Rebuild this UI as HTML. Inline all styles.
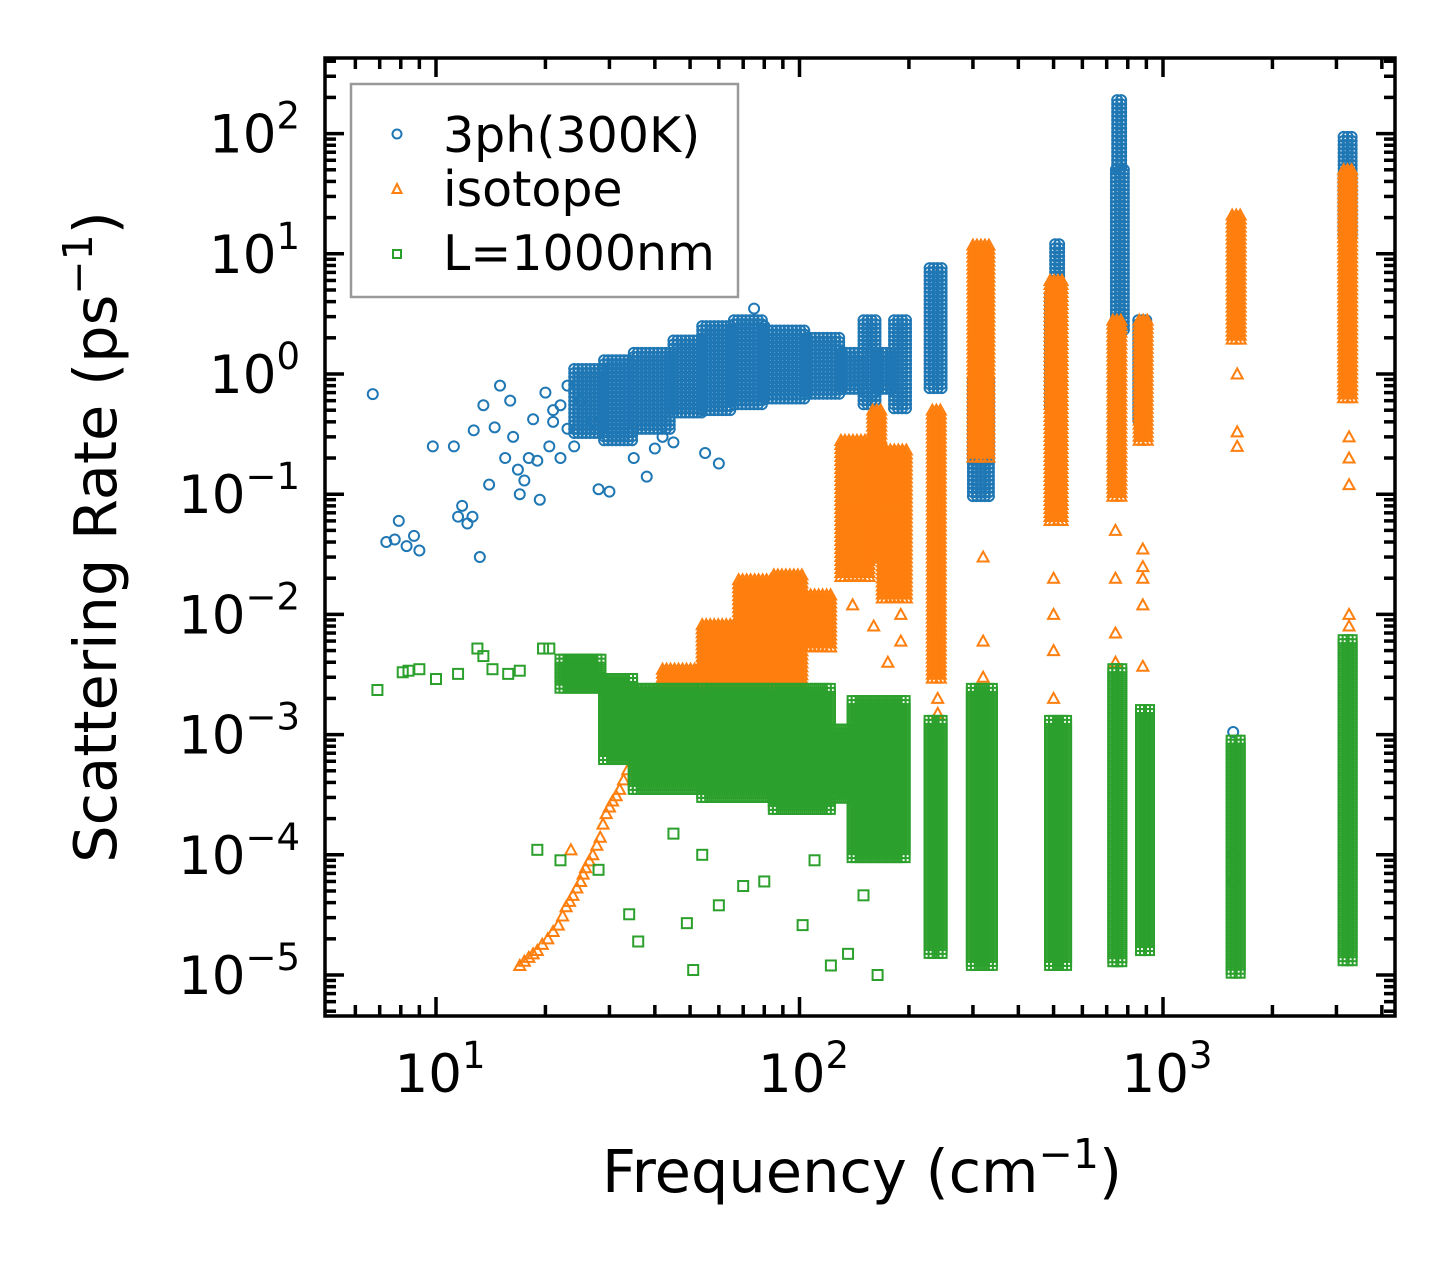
<!DOCTYPE html>
<html><head><meta charset="utf-8"><style>
html,body{margin:0;padding:0;background:#fff;}
svg text{font-family:"DejaVu Sans","Liberation Sans",sans-serif;fill:#000;}
</style></head><body>
<svg id="chart" width="1455" height="1265" viewBox="0 0 1455 1265" xmlns="http://www.w3.org/2000/svg">
<rect width="1455" height="1265" fill="#fff"/>
<g id="marks"></g>
<g id="axes"></g>
<g>
 <rect x="351" y="84" width="387" height="213" fill="#fff" stroke="#999" stroke-width="2.5"/>
 <g>
  <circle cx="397" cy="134" r="4.5" fill="none" stroke="#1f77b4" stroke-width="2"/>
  <text x="443" y="152" font-size="49">3ph(300K)</text></g>
 <g>
  <polygon points="397,184 392.5,193 401.5,193" fill="none" stroke="#ff7f0e" stroke-width="2"/>
  <text x="443" y="206" font-size="49">isotope</text></g>
 <g>
  <rect x="393" y="250" width="8" height="8" fill="none" stroke="#2ca02c" stroke-width="2"/>
  <text x="443" y="270" font-size="49">L=1000nm</text></g>
</g>
<text transform="translate(116,537) rotate(-90)" text-anchor="middle" font-size="59">Scattering Rate (ps<tspan dy="-24" font-size="41">−1</tspan><tspan dy="24">)</tspan></text>
<text x="862" y="1192" text-anchor="middle" font-size="59">Frequency (cm<tspan dy="-24" font-size="41">−1</tspan><tspan dy="24">)</tspan></text>
</svg>
<script>
// ---- data ----
const xTickExps = [1, 2, 3];
const yTickExps = [2, 1, 0, -1, -2, -3, -4, -5];
// dense regions: [fLo, fHi, vLo, vHi]
const blueBlocks = [
 [24,29,0.3,1.1],[29,35,0.28,1.3],[35,45,0.35,1.5],[45,54,0.45,1.9],[54,66,0.5,2.5],
 [66,80,0.55,2.8],[80,105,0.6,2.3],[105,131,0.65,2.0],[131,150,0.7,1.5],[150,165,0.55,2.8],
 [165,180,0.75,1.5],[182,198,0.5,2.8],[228,248,0.74,7.6],[300,340,0.09,0.89],
 [303,318,0.41,1.9],[489,520,0.5,4.5],[505,525,4.1,12],[742,785,2.3,50],[748,768,50,190],
 [735,760,0.16,2.3],[855,900,0.41,2.8],[3140,3320,13,94]
];
const blueF = [6.7,7.3,7.7,7.9,8.3,8.7,9.0,9.8,11.2,11.5,11.8,12.2,12.6,13.2,12.7,13.5,14,14.5,15,15.5,16,16.3,16.8,17,17.5,18,18.5,19,19.3,20,20.5,21,22,23,24,25,28,30,27,35,38,40,45,42,55,60,75,80,1560,1560,1560,22,21,23];
const blueV = [0.68,0.04,0.042,0.06,0.037,0.045,0.034,0.25,0.25,0.065,0.08,0.057,0.065,0.03,0.34,0.55,0.12,0.36,0.8,0.2,0.6,0.3,0.16,0.1,0.13,0.2,0.42,0.19,0.09,0.7,0.25,0.5,0.2,0.8,0.25,0.6,0.11,0.105,0.4,0.2,0.14,0.24,0.27,0.3,0.22,0.18,3.5,2.5,0.00105,0.0001,0.00006,0.55,0.4,0.35];
const orangeBlocks = [
 [35,42,0.0006,0.0023],[42,54,0.0006,0.0035],[54,68,0.0006,0.0082],[68,85,0.0006,0.0194],
 [85,102,0.0019,0.0213],[102,124,0.005,0.0145],[130,159,0.0194,0.28],[159,169,0.028,0.5],
 [169,199,0.013,0.233],[232,250,0.0029,0.5],[300,340,0.19,11.8],[489,540,0.06,6.0],
 [728,775,0.09,2.8],[860,910,0.28,2.8],[1550,1650,1.9,21],[3140,3320,0.6,50]
];
const orangeF = [17,17.5,18,18.5,19,19.6,20.3,21,21.7,22.3,22.8,23.3,23.8,24.4,25,25.4,25.8,26.4,27,27.7,28.3,28.8,29.4,30,30.6,31.3,32,32.8,33.7,23.5,240,240,240,320,320,320,500,500,500,500,740,740,740,740,880,880,880,880,880,1600,1600,1600,3250,3250,3250,3250,3250,140,160,190,190,175];
const orangeV = [1.2e-5,1.3e-5,1.4e-5,1.5e-5,1.6e-5,1.8e-5,2.0e-5,2.3e-5,2.6e-5,3.1e-5,3.7e-5,4.1e-5,4.6e-5,5.3e-5,6e-5,6.9e-5,7.8e-5,8.9e-5,1e-4,1.2e-4,1.4e-4,1.8e-4,2.2e-4,2.5e-4,2.8e-4,3.1e-4,3.5e-4,4.2e-4,5.1e-4,1.1e-4,0.002,0.0015,0.001,0.03,0.006,0.003,0.02,0.01,0.005,0.002,0.05,0.02,0.007,0.004,0.035,0.025,0.02,0.012,0.0037,1.0,0.33,0.25,0.3,0.2,0.12,0.01,0.008,0.012,0.008,0.01,0.006,0.004];
const greenBlocks = [
 [22,29,0.0024,0.0042],[29,35,0.0006,0.0029],[35,54,0.00035,0.0024],[54,85,0.00029,0.0024],
 [85,123,0.00023,0.0024],[123,140,0.00029,0.0011],[140,199,0.00009,0.0019],[228,250,1.5e-5,0.0013],
 [298,345,1.2e-5,0.0024],[489,545,1.2e-5,0.0013],[730,775,1.3e-5,0.0035],[870,915,1.6e-5,0.0016],
 [1545,1650,1.0e-5,0.00089],[3140,3350,1.3e-5,0.0061]
];
const greenF = [6.9,8.1,8.4,9.0,10,11.5,13,13.5,14.3,15.8,19.7,20.5,17,19,22,28,34,36,51,49,60,70,102,122,136,164,150,54,45,80,110,24,26];
const greenV = [0.00235,0.0033,0.0034,0.0035,0.0029,0.0032,0.0052,0.0045,0.0035,0.0032,0.0052,0.0052,0.0034,1.1e-4,9e-5,7.5e-5,3.2e-5,1.9e-5,1.1e-5,2.7e-5,3.8e-5,5.5e-5,2.6e-5,1.2e-5,1.5e-5,1.0e-5,4.6e-5,1e-4,1.5e-4,6e-5,9e-5,0.0035,0.0042];

// ---- axes functions ----
const X0=325,X1=1395,Y0=58,Y1=1016;
const xDec=363.5, x10=436;
const yDec=120.2, y1=374;
const xs = f => x10 + (Math.log10(f)-1)*xDec;
const ys = v => y1 - Math.log10(v)*yDec;
const NS="http://www.w3.org/2000/svg";
const marks=document.getElementById('marks');
function mk(tag,attrs,parent){const e=document.createElementNS(NS,tag);for(const k in attrs)e.setAttribute(k,attrs[k]);parent.appendChild(e);return e;}
function marker(kind,cx,cy,g){
 let e;
 if(kind==='c') e=mk('circle',{cx:cx,cy:cy,r:5,fill:'none',stroke:'#1f77b4','stroke-width':2},g);
 else if(kind==='t') e=mk('polygon',{points:`${cx},${cy-5.5} ${cx-5.5},${cy+4.5} ${cx+5.5},${cy+4.5}`,fill:'none',stroke:'#ff7f0e','stroke-width':2},g);
 else e=mk('rect',{x:cx-5,y:cy-5,width:10,height:10,fill:'none',stroke:'#2ca02c','stroke-width':2},g);
 
 
}
function drawSeries(name,kind,blocks,F,V){
 const g=mk('g',{},marks);
 
 
 blocks.forEach(b=>{
  const xa=xs(b[0]),xb=xs(b[1]),ya=ys(b[3]),yb=ys(b[2]);
  for(let x=xa;x<=xb+0.1;x+=4){for(let y=ya;y<=yb+0.1;y+=4){marker(kind,x,y,g);}}
 });
 F.forEach((f,i)=>marker(kind,xs(f),ys(V[i]),g));
}
drawSeries('series-3ph','c',blueBlocks,blueF,blueV);
drawSeries('series-isotope','t',orangeBlocks,orangeF,orangeV);
drawSeries('series-boundary','s',greenBlocks,greenF,greenV);

// ---- axes ----
const ax=document.getElementById('axes');
const frame=mk('rect',{x:X0,y:Y0,width:X1-X0,height:Y1-Y0,fill:'none',stroke:'#000','stroke-width':3.5},ax);


function tick(x1,y1_,x2,y2){mk('line',{x1:x1,y1:y1_,x2:x2,y2:y2,stroke:'#000','stroke-width':3.5},ax);}
for(let d=0;d<=4;d++){for(let m=1;m<=9;m++){
 const f=m*Math.pow(10,d); const x=xs(f); if(x<X0+2||x>X1-2) continue;
 const L=m===1?19:11; tick(x,Y1,x,Y1-L); tick(x,Y0,x,Y0+L);
}}
xTickExps.forEach(e=>{
 const t=mk('text',{x:xs(Math.pow(10,e))+4,y:1092,'text-anchor':'middle','font-size':53},ax);
 
 
 t.textContent='10';
 const s=mk('tspan',{dy:-24,'font-size':37},t); s.textContent=String(e);
});
for(let d=-6;d<=3;d++){for(let m=1;m<=9;m++){
 const v=m*Math.pow(10,d); const y=ys(v); if(y<Y0+2||y>Y1-2) continue;
 const L=m===1?19:11; tick(X0,y,X0+L,y); tick(X1,y,X1-L,y);
}}
yTickExps.forEach(e=>{
 const y=ys(Math.pow(10,e));
 const lab=e<0?'−'+(-e):String(e);
 const t=mk('text',{x:300,y:y+19,'text-anchor':'end','font-size':53},ax);
 
 
 t.textContent='10';
 const s=mk('tspan',{dy:-24,'font-size':37},t); s.textContent=lab;
});
</script>
</body></html>
